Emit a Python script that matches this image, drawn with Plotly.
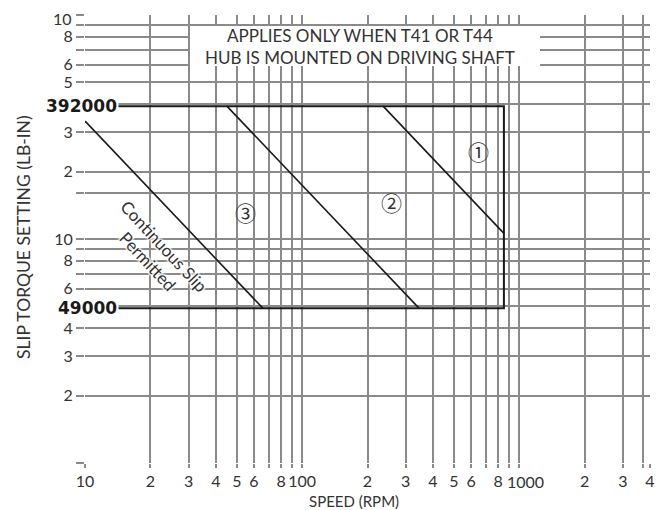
import numpy as np
import plotly.graph_objects as go

# ---- data ----
x_grid = [10, 20, 30, 40, 50, 60, 70, 80, 90, 100, 200, 300, 400, 500, 600, 700, 800, 900, 1000, 2000, 3000, 3700, 4000]
x_labels = ["10", "2", "3", "4", "5", "6", "", "8", "", "100", "2", "3", "4", "5", "6", "", "8", "", "", "2", "3", "", "4"]
y_grid = [1e4, 2e4, 3e4, 4e4, 5e4, 6e4, 7e4, 8e4, 9e4, 1e5, 1.6e5, 2e5, 3e5, 4e5, 5e5, 6e5, 7e5, 8e5, 9e5, 1e6]
y_labels = ["", "2", "3", "4", "", "6", "", "8", "", "10", "", "2", "3", "", "5", "6", "", "8", "", ""]
x_major_label = "1000"
x_major_value = 1000
y_top_label = "10"
y_top_value = 1e6

torque_max = 392000
torque_min = 49000
speed_max = 850
box_x = [10, speed_max, speed_max, 10]
box_y = [torque_max, torque_max, torque_min, torque_min]

line_cont_x = [10, 66]
line_cont_y = [336000, 49000]
line_3_x = [45, 346]
line_3_y = [392000, 49000]
line_1_x = [236, 850]
line_1_y = [392000, 106000]

region_labels = ["①", "②", "③"]
region_x = [647, 257, 55]
region_y = [247000, 146000, 132000]

GRID = "#8a8a8a"
TXT = "#333333"
FONT = "Lato"

# page body has an 8px margin: plot area sits at x 85..650, y 15..463 in the window
fig = go.Figure()
fig.add_trace(go.Scatter(x=box_x, y=box_y, mode="lines",
                         line=dict(color="#1a1a1a", width=2), hoverinfo="skip"))
for lx, ly in [(line_cont_x, line_cont_y), (line_3_x, line_3_y), (line_1_x, line_1_y)]:
    fig.add_trace(go.Scatter(x=lx, y=ly, mode="lines",
                             line=dict(color="#1a1a1a", width=1.6), hoverinfo="skip"))

fig.update_layout(
    width=655, height=502,
    margin=dict(l=77, r=13, t=7, b=47),
    paper_bgcolor="white", plot_bgcolor="white",
    showlegend=False,
    font=dict(family=FONT, size=16, color=TXT),
)
fig.update_xaxes(type="log", range=[np.log10(10) - 0.0004, np.log10(4000) + 0.0004],
                 tickmode="array", tickvals=x_grid, ticktext=x_labels, tickangle=0,
                 automargin=False, ticklabeloverflow="allow",
                 showgrid=True, gridcolor=GRID, gridwidth=2,
                 ticks="outside", ticklen=4, tickcolor=GRID, tickwidth=2,
                 showline=False, zeroline=False,
                 tickfont=dict(family=FONT, size=16, color=TXT))
fig.update_yaxes(type="log", range=[np.log10(1e4) - 0.0004, np.log10(1e6) + 0.0004],
                 tickmode="array", tickvals=y_grid, ticktext=y_labels,
                 automargin=False, ticklabeloverflow="allow",
                 showgrid=True, gridcolor=GRID, gridwidth=2,
                 ticks="outside", ticklen=8, tickcolor=GRID, tickwidth=2,
                 showline=False, zeroline=False,
                 tickfont=dict(family=FONT, size=16, color=TXT))

# "1000" tick label, set slightly right of its tick as in the original
fig.add_annotation(text=x_major_label, x=np.log10(x_major_value), xref="x",
                   y=(463 - 481) / 448, yref="paper", xshift=6,
                   xanchor="center", yanchor="middle", showarrow=False,
                   font=dict(family=FONT, size=16, color=TXT))
# top "10" tick label (kept inside the page)
fig.add_annotation(text=y_top_label, xref="paper", x=(74 - 85) / 565,
                   yref="y", y=np.log10(y_top_value), yshift=-3,
                   xanchor="right", yanchor="middle", showarrow=False,
                   font=dict(family=FONT, size=16, color=TXT))

# header white box
fig.add_shape(type="rect", xref="paper", yref="paper",
              x0=(190 - 85) / 565, x1=(540 - 85) / 565,
              y0=(463 - 66) / 448, y1=(463 - 26) / 448,
              fillcolor="white", line=dict(width=0), layer="above")
fig.add_annotation(text="APPLIES ONLY WHEN T41 OR T44<br>HUB IS MOUNTED ON DRIVING SHAFT",
                   xref="paper", yref="paper",
                   x=(360 - 85) / 565, y=(463 - 46) / 448,
                   xanchor="center", yanchor="middle", showarrow=False,
                   font=dict(family=FONT, size=17, color=TXT))

# bold limit labels
for val in [torque_max, torque_min]:
    fig.add_annotation(text="<b>%d</b>" % val, xref="paper", yref="y",
                       x=(119 - 85) / 565, y=np.log10(val), xanchor="right", yanchor="middle",
                       showarrow=False, bgcolor="white", borderpad=1,
                       font=dict(family="DejaVu Sans", size=17, color="#1a1a1a"))

# region labels
for t, rx, ry in zip(region_labels, region_x, region_y):
    fig.add_annotation(text=t, x=np.log10(rx), y=np.log10(ry), showarrow=False,
                       xanchor="center", yanchor="middle",
                       font=dict(family="Noto Sans CJK JP", size=21, color=TXT))

# continuous slip text
halo = ", ".join(["0 0 2px white"] * 4 + ["0 0 3px white"] * 4)
fig.add_annotation(text="Continuous Slip<br>Permitted", xref="paper", yref="paper",
                   x=(156 - 85) / 565, y=(463 - 253) / 448, textangle=47,
                   xanchor="center", yanchor="middle", showarrow=False,
                   font=dict(family=FONT, size=17, color=TXT, shadow=halo))

# axis titles
fig.add_annotation(text="SPEED (RPM)", xref="paper", yref="paper",
                   x=(354 - 85) / 565, y=(463 - 500.5) / 448,
                   xanchor="center", yanchor="middle", showarrow=False,
                   font=dict(family=FONT, size=15, color=TXT))
fig.add_annotation(text="SLIP TORQUE SETTING (LB-IN)", xref="paper", yref="paper",
                   x=(23 - 85) / 565, y=(463 - 237) / 448, textangle=-90,
                   xanchor="center", yanchor="middle", showarrow=False,
                   font=dict(family=FONT, size=17.5, color=TXT))

fig.write_html("out.html")
